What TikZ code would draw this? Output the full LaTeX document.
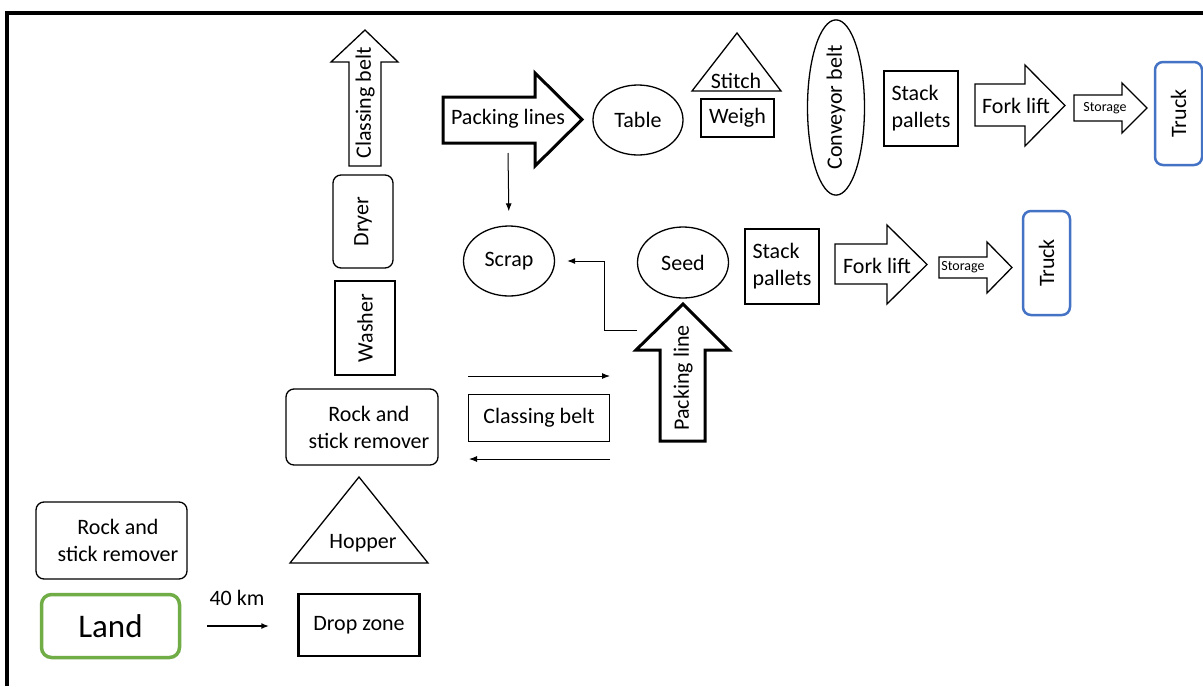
\documentclass[tikz,border=0pt]{standalone}
\usepackage{fontspec}
\setmainfont{Carlito}
\usetikzlibrary{shapes.geometric,arrows.meta}
\definecolor{landgreen}{HTML}{70AD47}
\definecolor{truckblue}{HTML}{4472C4}
\begin{document}
\begin{tikzpicture}[x=1pt,y=-1pt,
  every node/.style={font=\fontsize{22}{27}\selectfont, inner sep=0pt},
  bx/.style={draw, line width=1.3pt, rectangle},
  rbx/.style={bx, rounded corners=8pt},
  el/.style={draw, line width=1.3pt, ellipse},
  shp/.style={draw, line width=1.3pt, line join=miter},
  thk/.style={draw, line width=3pt, line join=miter},
  arr/.style={line width=1pt, -{Latex[length=8pt,width=6pt]}},
  small/.style={font=\fontsize{14}{16}\selectfont}]
\useasboundingbox (0,0) rectangle (1203,686);
\fill[white] (0,0) rectangle (1203,686);
\draw[line width=3.5pt] (7,686) -- (7,13) -- (1203,13);

% vertical chain
\draw[shp] (349,166) -- (349,62) -- (331,62) -- (365,30) -- (398,62) -- (381,62) -- (381,166) -- cycle;
\node[rotate=90] (cbup) at (365,103) {Classing belt};
\node[rbx, rotate=90, minimum width=93pt, minimum height=60pt] (dryer) at (363,221.5) {Dryer};
\node[bx, rotate=90, minimum width=94pt, minimum height=60pt] (washer) at (365,328) {Washer};
\node[rbx, minimum width=152pt, minimum height=76pt] (rock) at (362,427) {};
\node[align=center] (rockt) at (369,427) {Rock and\\stick remover};
\draw[shp] (359,477) -- (428,563) -- (290,563) -- cycle;
\node (hopper) at (363,543) {Hopper};
\node[bx, line width=2.5pt, minimum width=121pt, minimum height=62pt] (drop) at (359,625) {Drop zone};

% left column
\node[rbx, minimum width=151pt, minimum height=77pt] (rockl) at (111.5,540.5) {};
\node[align=center] (rocklt) at (118,540.5) {Rock and\\stick remover};
\node[rbx, draw=landgreen, line width=3.5pt, rounded corners=10pt, minimum width=138pt, minimum height=63pt, font=\fontsize{33}{40}\selectfont] (land) at (110.5,626) {Land};
\draw[arr, line width=2pt, shorten <=26pt, shorten >=28pt] (land.east) -- (land.east -| drop.west);
\node (km) at (237,598) {40 km};

% classing belt and side arrows
\coordinate (r1) at (468,376);
\coordinate (r2) at (610,376);
\draw[arr] (r1) -- (r2);
\node[bx, minimum width=141pt, minimum height=47pt] (cbelt) at (539,418) {Classing belt};
\coordinate (l1) at (610,459);
\coordinate (l2) at (469,459);
\draw[arr] (l1) -- (l2);

% packing line (up)
\draw[thk] (660,441) -- (660,350) -- (636,350) -- (683,304) -- (729,350) -- (705,350) -- (705,441) -- cycle;
\node[rotate=90] (pkl) at (683,378) {Packing line};

% middle row
\node[el, minimum width=91pt, minimum height=70pt] (scrap) at (509,261) {Scrap};
\node[el, minimum width=91pt, minimum height=71pt] (seed) at (683,262.5) {Seed};
\node[bx, minimum width=74pt, minimum height=75pt, align=left] (sp2) at (782,266.5) {Stack\\pallets};
\draw[shp] (835,244) -- (887,244) -- (887,225) -- (927,264.5) -- (887,304) -- (887,284) -- (835,284) -- cycle;
\node (fl2) at (877,266) {Fork lift};
\draw[shp] (939,257) -- (987,257) -- (987,242) -- (1012,267.5) -- (987,293) -- (987,278) -- (939,278) -- cycle;
\node[small] (st2) at (963,267) {Storage};
\node[rbx, draw=truckblue, line width=2.5pt, rotate=90, minimum width=104pt, minimum height=47pt] (truck2) at (1046.5,263) {Truck};

\coordinate (a2) at (637,330);
\draw[arr, shorten >=12pt] (a2) -- (604,330) |- (scrap.east);

% top row
\draw[thk] (443,97) -- (535,97) -- (535,73) -- (582,119.5) -- (535,166) -- (535,143) -- (443,143) -- cycle;
\node (pls) at (508,119) {Packing lines};
\coordinate (a1) at (508,153);
\draw[arr, shorten >=14pt] (a1) -- (scrap.north);
\node[el, minimum width=90pt, minimum height=70pt] (table) at (638,120) {Table};
\draw[shp] (737,33) -- (781,91) -- (692,91) -- cycle;
\node[anchor=base] (stitch) at (736,88) {Stitch};
\node[bx, minimum width=73pt, minimum height=38pt] (weigh) at (737.5,118) {Weigh};
\node[el, rotate=90, minimum width=148pt, minimum height=57pt] (conv) at (836,107.5) {Conveyor belt};
\node[bx, minimum width=74pt, minimum height=75pt, align=left] (sp1) at (921,108.5) {Stack\\pallets};
\draw[shp] (975,84) -- (1025,84) -- (1025,65) -- (1065,105.5) -- (1025,146) -- (1025,126) -- (975,126) -- cycle;
\node (fl1) at (1016,106) {Fork lift};
\draw[shp] (1074,95) -- (1122,95) -- (1122,83) -- (1147,108) -- (1122,133) -- (1122,121) -- (1074,121) -- cycle;
\node[small] (st1) at (1105,108) {Storage};
\node[rbx, draw=truckblue, line width=2.5pt, rotate=90, minimum width=103pt, minimum height=47pt] (truck1) at (1178.5,113.5) {Truck};
\end{tikzpicture}
\end{document}
